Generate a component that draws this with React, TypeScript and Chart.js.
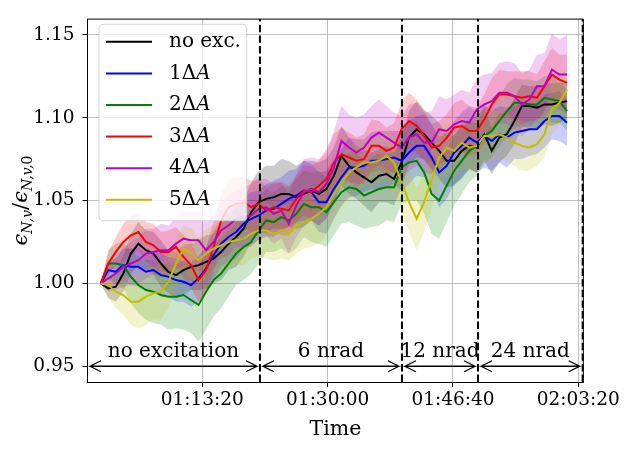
import { useEffect, useRef } from 'react';
import { Chart, registerables } from 'chart.js';

Chart.register(...registerables);

// time in seconds
const times = [
  3590, 3650, 3710, 3770, 3830, 3890, 3950, 4010, 4070, 4130,
  4190, 4250, 4310, 4370, 4430, 4490, 4550, 4610, 4670, 4730,
  4790, 4850, 4910, 4970, 5030, 5090, 5150, 5210, 5270, 5330,
  5390, 5450, 5510, 5570, 5630, 5690, 5750, 5810, 5870, 5930,
  5990, 6050, 6110, 6170, 6230, 6290, 6350, 6410, 6470, 6530,
  6590, 6650, 6710, 6770, 6830, 6890, 6950, 7010, 7070, 7130,
  7190, 7250, 7310,
];

const noExc = [
  1.000, 0.997, 0.998, 1.006, 1.018, 1.024, 1.020, 1.018, 1.012, 1.007,
  1.005, 1.008, 1.010, 1.011, 1.013, 1.015, 1.019, 1.024, 1.028, 1.033,
  1.043, 1.049, 1.051, 1.052, 1.054, 1.054, 1.052, 1.054, 1.056, 1.054,
  1.057, 1.065, 1.077, 1.071, 1.067, 1.064, 1.061, 1.065, 1.066, 1.063,
  1.073, 1.088, 1.093, 1.090, 1.085, 1.080, 1.074, 1.074, 1.080, 1.083,
  1.082, 1.090, 1.080, 1.088, 1.090, 1.098, 1.107, 1.107, 1.106, 1.108,
  1.108, 1.109, 1.110,
];
const exc1 = [
  1.000, 1.008, 1.007, 1.011, 1.010, 1.010, 1.007, 1.008, 1.005, 1.004,
  1.002, 1.001, 0.999, 1.003, 1.009, 1.017, 1.024, 1.028, 1.031, 1.036,
  1.039, 1.041, 1.044, 1.045, 1.048, 1.051, 1.053, 1.056, 1.055, 1.049,
  1.049, 1.057, 1.064, 1.070, 1.070, 1.071, 1.074, 1.074, 1.075, 1.076,
  1.074, 1.079, 1.083, 1.083, 1.076, 1.067, 1.071, 1.079, 1.083, 1.088,
  1.085, 1.089, 1.086, 1.090, 1.088, 1.091, 1.092, 1.093, 1.093, 1.098,
  1.101, 1.101, 1.097,
];
const exc2 = [
  1.000, 1.012, 1.012, 1.011, 1.004, 0.999, 0.996, 0.995, 0.993, 0.992,
  0.992, 0.993, 0.990, 0.987, 0.995, 1.002, 1.006, 1.012, 1.018, 1.022,
  1.025, 1.032, 1.038, 1.037, 1.040, 1.038, 1.042, 1.048, 1.046, 1.046,
  1.043, 1.049, 1.055, 1.058, 1.057, 1.053, 1.055, 1.057, 1.058, 1.058,
  1.070, 1.073, 1.074, 1.067, 1.054, 1.050, 1.059, 1.068, 1.074, 1.080,
  1.083, 1.089, 1.092, 1.098, 1.104, 1.109, 1.109, 1.108, 1.108, 1.112,
  1.111, 1.110, 1.104,
];
const exc3 = [
  1.000, 1.012, 1.019, 1.025, 1.029, 1.031, 1.025, 1.023, 1.019, 1.019,
  1.022, 1.016, 1.011, 1.002, 1.008, 1.022, 1.038, 1.046, 1.048, 1.049,
  1.046, 1.048, 1.044, 1.046, 1.045, 1.044, 1.051, 1.056, 1.055, 1.059,
  1.063, 1.073, 1.078, 1.076, 1.074, 1.075, 1.083, 1.083, 1.080, 1.082,
  1.093, 1.098, 1.095, 1.089, 1.082, 1.083, 1.088, 1.094, 1.095, 1.092,
  1.092, 1.099, 1.108, 1.114, 1.114, 1.113, 1.112, 1.113, 1.112, 1.119,
  1.126, 1.123, 1.121,
];
const exc4 = [
  1.000, 1.003, 1.006, 1.010, 1.012, 1.014, 1.018, 1.019, 1.020, 1.020,
  1.024, 1.027, 1.026, 1.026, 1.020, 1.025, 1.032, 1.035, 1.039, 1.040,
  1.041, 1.045, 1.046, 1.042, 1.044, 1.036, 1.047, 1.055, 1.057, 1.055,
  1.060, 1.070, 1.086, 1.082, 1.079, 1.082, 1.088, 1.091, 1.088, 1.085,
  1.082, 1.088, 1.090, 1.085, 1.085, 1.093, 1.092, 1.096, 1.098, 1.097,
  1.105, 1.108, 1.110, 1.115, 1.115, 1.113, 1.108, 1.111, 1.119, 1.119,
  1.129, 1.126, 1.126,
];
const exc5 = [
  1.000, 0.999, 0.995, 0.993, 0.989, 0.989, 0.992, 0.994, 0.995, 1.001,
  1.012, 1.021, 1.018, 1.014, 1.018, 1.021, 1.023, 1.025, 1.026, 1.027,
  1.030, 1.032, 1.032, 1.030, 1.032, 1.030, 1.035, 1.037, 1.039, 1.042,
  1.046, 1.054, 1.061, 1.067, 1.070, 1.073, 1.073, 1.074, 1.077, 1.073,
  1.061, 1.049, 1.039, 1.049, 1.063, 1.076, 1.082, 1.080, 1.085, 1.082,
  1.083, 1.089, 1.089, 1.090, 1.088, 1.085, 1.083, 1.082, 1.084, 1.090,
  1.105, 1.109, 1.117,
];

// spread (half-width of shaded band) for each series
const noExcSpread = [
  0.000, 0.006, 0.009, 0.011, 0.012, 0.013, 0.012, 0.013, 0.014, 0.013,
  0.014, 0.015, 0.014, 0.015, 0.016, 0.015, 0.017, 0.016, 0.018, 0.017,
  0.018, 0.019, 0.020, 0.019, 0.021, 0.020, 0.019, 0.020, 0.018, 0.019,
  0.018, 0.017, 0.018, 0.017, 0.016, 0.017, 0.018, 0.016, 0.017, 0.016,
  0.015, 0.016, 0.017, 0.015, 0.016, 0.017, 0.016, 0.015, 0.016, 0.014,
  0.015, 0.016, 0.014, 0.015, 0.013, 0.014, 0.013, 0.012, 0.013, 0.012,
  0.013, 0.012, 0.011,
];
const exc1Spread = [
  0.000, 0.006, 0.008, 0.010, 0.011, 0.012, 0.011, 0.012, 0.013, 0.012,
  0.013, 0.012, 0.013, 0.014, 0.013, 0.015, 0.014, 0.015, 0.016, 0.015,
  0.016, 0.015, 0.016, 0.017, 0.016, 0.017, 0.016, 0.018, 0.017, 0.018,
  0.019, 0.018, 0.017, 0.018, 0.017, 0.016, 0.017, 0.018, 0.017, 0.016,
  0.018, 0.019, 0.018, 0.019, 0.020, 0.021, 0.020, 0.019, 0.020, 0.019,
  0.018, 0.019, 0.018, 0.017, 0.018, 0.016, 0.017, 0.016, 0.015, 0.016,
  0.014, 0.015, 0.014,
];
const exc2Spread = [
  0.000, 0.008, 0.012, 0.014, 0.016, 0.017, 0.018, 0.019, 0.018, 0.020,
  0.019, 0.021, 0.020, 0.022, 0.023, 0.022, 0.021, 0.020, 0.019, 0.020,
  0.019, 0.020, 0.019, 0.018, 0.019, 0.020, 0.021, 0.020, 0.021, 0.022,
  0.021, 0.020, 0.019, 0.021, 0.022, 0.020, 0.021, 0.022, 0.020, 0.021,
  0.022, 0.023, 0.024, 0.025, 0.024, 0.023, 0.022, 0.021, 0.020, 0.019,
  0.018, 0.017, 0.016, 0.015, 0.016, 0.015, 0.014, 0.015, 0.014, 0.013,
  0.014, 0.013, 0.012,
];
const exc3Spread = [
  0.000, 0.007, 0.009, 0.011, 0.012, 0.011, 0.012, 0.013, 0.012, 0.013,
  0.012, 0.013, 0.014, 0.013, 0.014, 0.015, 0.016, 0.017, 0.016, 0.015,
  0.016, 0.015, 0.014, 0.015, 0.016, 0.015, 0.014, 0.015, 0.016, 0.015,
  0.016, 0.017, 0.016, 0.015, 0.014, 0.015, 0.016, 0.015, 0.014, 0.015,
  0.016, 0.017, 0.016, 0.015, 0.014, 0.015, 0.014, 0.015, 0.016, 0.015,
  0.014, 0.015, 0.016, 0.015, 0.014, 0.015, 0.016, 0.015, 0.014, 0.015,
  0.016, 0.015, 0.017,
];
const exc4Spread = [
  0.000, 0.008, 0.010, 0.012, 0.013, 0.014, 0.015, 0.014, 0.016, 0.015,
  0.016, 0.017, 0.016, 0.018, 0.017, 0.016, 0.017, 0.018, 0.017, 0.018,
  0.019, 0.018, 0.017, 0.018, 0.017, 0.018, 0.019, 0.020, 0.019, 0.020,
  0.021, 0.022, 0.021, 0.020, 0.021, 0.020, 0.019, 0.020, 0.019, 0.018,
  0.019, 0.020, 0.019, 0.018, 0.019, 0.020, 0.019, 0.018, 0.019, 0.018,
  0.019, 0.018, 0.017, 0.018, 0.019, 0.020, 0.019, 0.018, 0.019, 0.020,
  0.022, 0.021, 0.024,
];
const exc5Spread = [
  0.000, 0.007, 0.010, 0.012, 0.014, 0.016, 0.017, 0.016, 0.017, 0.016,
  0.015, 0.014, 0.015, 0.014, 0.015, 0.014, 0.015, 0.016, 0.015, 0.016,
  0.015, 0.016, 0.017, 0.016, 0.017, 0.016, 0.017, 0.016, 0.017, 0.018,
  0.017, 0.016, 0.015, 0.016, 0.015, 0.014, 0.015, 0.014, 0.015, 0.016,
  0.017, 0.018, 0.019, 0.018, 0.017, 0.016, 0.015, 0.016, 0.015, 0.014,
  0.015, 0.016, 0.015, 0.014, 0.015, 0.014, 0.015, 0.014, 0.013, 0.014,
  0.015, 0.014, 0.013,
];

const seriesLabels = ['no exc.', '1ΔA', '2ΔA', '3ΔA', '4ΔA', '5ΔA'];
const seriesColors = ['0,0,0', '0,0,255', '0,128,0', '255,0,0', '191,0,191', '191,191,0'];
const seriesMeans = [noExc, exc1, exc2, exc3, exc4, exc5];
const seriesSpreads = [noExcSpread, exc1Spread, exc2Spread, exc3Spread, exc4Spread, exc5Spread];

// vertical dashed separators (seconds)
const dividers = [4860, 5993, 6600, 7435];
// annotation regions (seconds)
const regionStart = [3480, 4860, 5993, 6600];
const regionEnd = [4860, 5993, 6600, 7435];
const regionLabels = ['no excitation', '6 nrad', '12 nrad', '24 nrad'];
const arrowLevel = 0.95;

const xTicks = [4400, 5400, 6400, 7400];
const yTicks = [0.95, 1.0, 1.05, 1.1, 1.15];

const SERIF = '"DejaVu Serif", serif';

function fmtTime(v: number) {
  const h = Math.floor(v / 3600);
  const m = Math.floor((v % 3600) / 60);
  const s = Math.round(v % 60);
  const p = (n: number) => String(n).padStart(2, '0');
  return `${p(h)}:${p(m)}:${p(s)}`;
}

const overlayPlugin = {
  id: 'overlay',
  afterDatasetsDraw(chart: any) {
    const { ctx, chartArea: a, scales } = chart;
    const x = scales.x;
    const y = scales.y;
    ctx.save();
    // dashed separators
    ctx.strokeStyle = '#000';
    ctx.lineWidth = 2;
    ctx.setLineDash([7.4, 3.2]);
    for (const t of dividers) {
      const px = x.getPixelForValue(t);
      ctx.beginPath();
      ctx.moveTo(px, a.bottom);
      ctx.lineTo(px, a.top);
      ctx.stroke();
    }
    ctx.setLineDash([]);
    // arrows + labels
    const ay = y.getPixelForValue(arrowLevel);
    ctx.lineWidth = 1.3;
    ctx.fillStyle = '#000';
    ctx.font = `20px ${SERIF}`;
    ctx.textAlign = 'center';
    ctx.textBaseline = 'alphabetic';
    for (let i = 0; i < regionStart.length; i++) {
      const x0 = x.getPixelForValue(regionStart[i]) + 3;
      const x1 = x.getPixelForValue(regionEnd[i]) - 3;
      ctx.beginPath();
      ctx.moveTo(x0, ay);
      ctx.lineTo(x1, ay);
      ctx.moveTo(x0 + 11, ay - 5.5);
      ctx.lineTo(x0, ay);
      ctx.lineTo(x0 + 11, ay + 5.5);
      ctx.moveTo(x1 - 11, ay - 5.5);
      ctx.lineTo(x1, ay);
      ctx.lineTo(x1 - 11, ay + 5.5);
      ctx.stroke();
      ctx.fillText(regionLabels[i], (x0 + x1) / 2, ay - 9);
    }
    // top & right spines
    ctx.lineWidth = 1;
    ctx.beginPath();
    ctx.moveTo(a.left, a.top);
    ctx.lineTo(a.right, a.top);
    ctx.lineTo(a.right, a.bottom);
    ctx.stroke();
    ctx.restore();
  },
  afterDraw(chart: any) {
    const { ctx, chartArea: a } = chart;
    ctx.save();
    // legend box
    const lx = 99, ly = 24.3, lw = 147.7, lh = 196.4, r = 4;
    ctx.beginPath();
    ctx.moveTo(lx + r, ly);
    ctx.lineTo(lx + lw - r, ly);
    ctx.quadraticCurveTo(lx + lw, ly, lx + lw, ly + r);
    ctx.lineTo(lx + lw, ly + lh - r);
    ctx.quadraticCurveTo(lx + lw, ly + lh, lx + lw - r, ly + lh);
    ctx.lineTo(lx + r, ly + lh);
    ctx.quadraticCurveTo(lx, ly + lh, lx, ly + lh - r);
    ctx.lineTo(lx, ly + r);
    ctx.quadraticCurveTo(lx, ly, lx + r, ly);
    ctx.closePath();
    ctx.fillStyle = 'rgba(255,255,255,0.8)';
    ctx.fill();
    ctx.strokeStyle = 'rgba(204,204,204,0.8)';
    ctx.lineWidth = 1;
    ctx.stroke();
    ctx.textBaseline = 'middle';
    ctx.textAlign = 'left';
    for (let i = 0; i < seriesLabels.length; i++) {
      const yy = 41.8 + i * 31.6;
      ctx.strokeStyle = `rgb(${seriesColors[i]})`;
      ctx.lineWidth = 2;
      ctx.beginPath();
      ctx.moveTo(106, yy);
      ctx.lineTo(152, yy);
      ctx.stroke();
      ctx.fillStyle = '#000';
      const label = seriesLabels[i];
      if (label.endsWith('A') && label.includes('Δ')) {
        const head = label.slice(0, -1);
        ctx.font = `20px ${SERIF}`;
        ctx.fillText(head, 169, yy);
        const w = ctx.measureText(head).width;
        ctx.font = `italic 20px ${SERIF}`;
        ctx.fillText('A', 169 + w, yy);
      } else {
        ctx.font = `20px ${SERIF}`;
        ctx.fillText(label, 169, yy);
      }
    }
    // x axis title
    ctx.fillStyle = '#000';
    ctx.textAlign = 'center';
    ctx.textBaseline = 'alphabetic';
    ctx.font = `20.5px ${SERIF}`;
    ctx.fillText('Time', (a.left + a.right) / 2, 435);
    // y axis title (rotated)
    const pieces = [
      { t: 'ϵ', f: `italic 21px ${SERIF}`, dy: 0 },
      { t: 'N,v', f: `italic 14px ${SERIF}`, dy: 4.5 },
      { t: '/', f: `21px ${SERIF}`, dy: 0 },
      { t: 'ϵ', f: `italic 21px ${SERIF}`, dy: 0 },
      { t: 'N,v,', f: `italic 14px ${SERIF}`, dy: 4.5 },
      { t: '0', f: `14px ${SERIF}`, dy: 4.5 },
    ];
    let total = 0;
    const widths: number[] = [];
    for (const p of pieces) {
      ctx.font = p.f;
      const w = ctx.measureText(p.t).width;
      widths.push(w);
      total += w;
    }
    ctx.translate(27, (a.top + a.bottom) / 2);
    ctx.rotate(-Math.PI / 2);
    ctx.textAlign = 'left';
    let cx = -total / 2;
    pieces.forEach((p, i) => {
      ctx.font = p.f;
      ctx.fillText(p.t, cx, p.dy);
      cx += widths[i];
    });
    ctx.restore();
  },
};

export default function App() {
  const ref = useRef<HTMLCanvasElement>(null);
  useEffect(() => {
    document.body.style.margin = '0';
    const canvas = ref.current;
    if (!canvas) return;
    const datasets: any[] = [];
    seriesMeans.forEach((mean, k) => {
      const spread = seriesSpreads[k];
      const col = seriesColors[k];
      const order = seriesMeans.length - k;
      datasets.push({
        label: seriesLabels[k] + ' upper',
        data: times.map((t, i) => ({ x: t, y: mean[i] + spread[i] })),
        borderWidth: 0,
        borderColor: 'rgba(0,0,0,0)',
        pointRadius: 0,
        fill: false,
        order,
      });
      datasets.push({
        label: seriesLabels[k] + ' lower',
        data: times.map((t, i) => ({ x: t, y: mean[i] - spread[i] })),
        borderWidth: 0,
        borderColor: 'rgba(0,0,0,0)',
        backgroundColor: `rgba(${col},0.2)`,
        pointRadius: 0,
        fill: '-1',
        order,
      });
      datasets.push({
        label: seriesLabels[k],
        data: times.map((t, i) => ({ x: t, y: mean[i] })),
        borderWidth: 2,
        borderColor: `rgb(${col})`,
        pointRadius: 0,
        fill: false,
        order,
      });
    });

    const chart = new Chart(canvas, {
      type: 'line',
      data: { datasets },
      options: {
        animation: false,
        responsive: false,
        maintainAspectRatio: false,
        layout: { padding: { left: 0, right: 46.7, top: 14, bottom: 0 } },
        elements: { line: { tension: 0 } },
        plugins: {
          legend: { display: false },
          tooltip: { enabled: false },
          filler: { drawTime: 'beforeDatasetsDraw' },
        },
        scales: {
          x: {
            type: 'linear',
            min: 3484,
            max: 7440,
            afterBuildTicks: (s: any) => {
              s.ticks = xTicks.map((v) => ({ value: v }));
            },
            afterFit: (s: any) => {
              s.height = 67;
            },
            ticks: {
              color: '#000',
              font: { family: SERIF, size: 18.5 },
              padding: 2,
              maxRotation: 0,
              callback: (v: any) => fmtTime(Number(v)),
            },
            grid: { color: '#b0b0b0', lineWidth: 0.8, tickColor: '#000', tickLength: 5, tickWidth: 1 },
            border: { color: '#000', width: 1 },
          },
          y: {
            type: 'linear',
            min: 0.9405,
            max: 1.1595,
            afterBuildTicks: (s: any) => {
              s.ticks = yTicks.map((v) => ({ value: v }));
            },
            afterFit: (s: any) => {
              s.width = 87.5;
            },
            ticks: {
              color: '#000',
              font: { family: SERIF, size: 18.5 },
              padding: 8,
              callback: (v: any) => Number(v).toFixed(2),
            },
            grid: { color: '#b0b0b0', lineWidth: 0.8, tickColor: '#000', tickLength: 5, tickWidth: 1 },
            border: { color: '#000', width: 1 },
          },
        },
      } as any,
      plugins: [overlayPlugin],
    });
    return () => chart.destroy();
  }, []);

  return (
    <div style={{ position: 'fixed', left: 0, top: 0, width: 630, height: 449, background: '#fff' }}>
      <canvas ref={ref} width={630} height={449} style={{ display: 'block', width: 630, height: 449 }} />
    </div>
  );
}
